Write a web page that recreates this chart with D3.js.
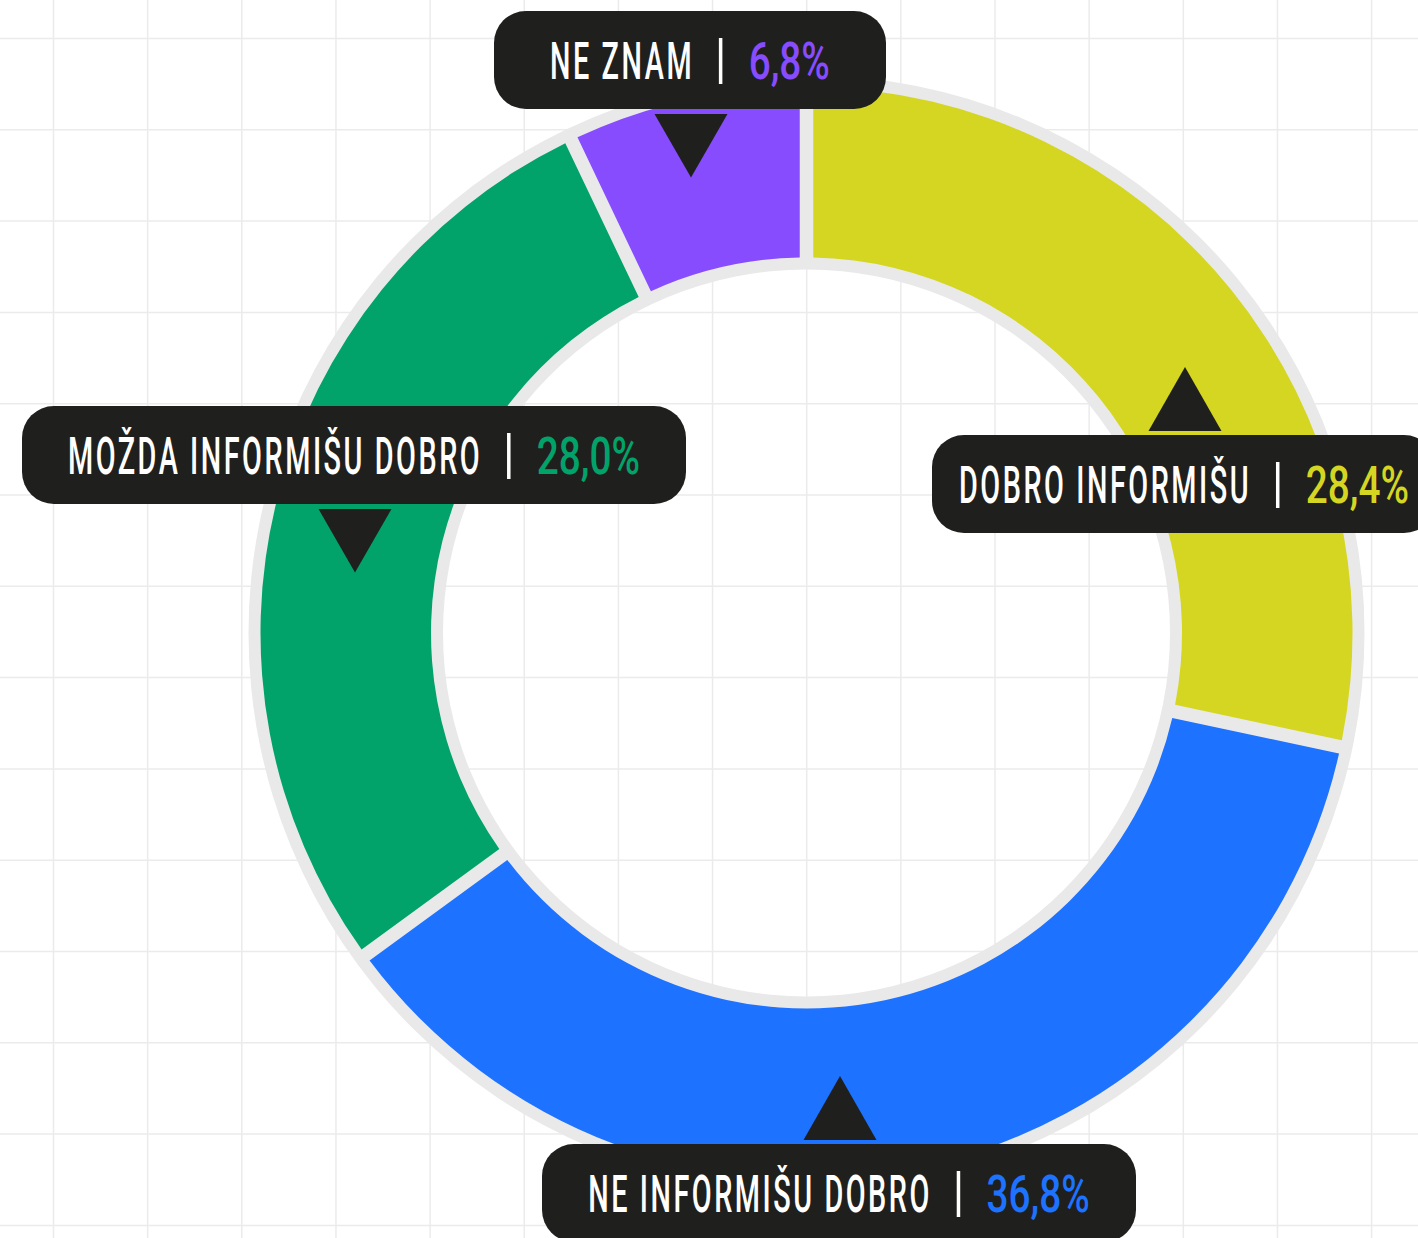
<!DOCTYPE html>
<meta charset="utf-8">
<html>
<head>
<style>
  body { margin: 0; background: #ffffff; }
  text { font-family: Roboto, "Noto Sans", sans-serif; font-weight: 500; }
</style>
</head>
<body>
<div id="chart"></div>
<script src="https://d3js.org/d3.v7.min.js"></script>
<script>
// data
var categories = ["DOBRO INFORMIŠU", "NE INFORMIŠU DOBRO", "MOŽDA INFORMIŠU DOBRO", "NE ZNAM"]
var shares = [28.4, 36.8, 28.0, 6.8]
var colors = ["#d4d622", "#1d72ff", "#02a36a", "#884cff"]

// where each callout sits (centre x, top of box, box width, pointer side)
var labelPos = [
  {cx: 1184, top: 435, w: 504, arrow: "up"},
  {cx: 839, top: 1144, w: 594, arrow: "up"},
  {cx: 354, top: 406, w: 664, arrow: "down"},
  {cx: 690, top: 11, w: 392, arrow: "down"}
]

var width = 1418, height = 1238
var cx = 806.5, cy = 633

var svg = d3.select("#chart").append("svg")
  .attr("width", width)
  .attr("height", height)

// background grid
svg.append("g").selectAll("line")
  .data(d3.range(53.5, width, 94.15))
  .enter().append("line")
    .attr("x1", d => d).attr("x2", d => d)
    .attr("y1", 0).attr("y2", height)
    .style("stroke", "#ebebeb").style("stroke-width", 1.5)
svg.append("g").selectAll("line")
  .data(d3.range(38.5, height, 91.3))
  .enter().append("line")
    .attr("y1", d => d).attr("y2", d => d)
    .attr("x1", 0).attr("x2", width)
    .style("stroke", "#ebebeb").style("stroke-width", 1.5)

var donut = svg.append("g").attr("transform", "translate(" + cx + "," + cy + ")")

// grey ring behind the slices
donut.append("path")
  .attr("d", d3.arc()({innerRadius: 363.5, outerRadius: 558, startAngle: 0, endAngle: 2 * Math.PI}))
  .style("fill", "#e9e9e9")

var pie = d3.pie().sort(null).padAngle(13.5 / 546)
var arc = d3.arc().innerRadius(375.5).outerRadius(546).padRadius(546)

donut.selectAll(".slice")
  .data(pie(shares))
  .enter().append("path")
    .attr("class", "slice")
    .attr("d", arc)
    .style("fill", (d, i) => colors[i])

// callouts
var fmt = function (v) { return d3.format(".1f")(v).replace(".", ",") + "%" }
var boxH = 98, nameScale = 0.565, valScale = 0.76, gapL = 29, gapR = 28

var labels = svg.selectAll(".label")
  .data(categories)
  .enter().append("g")
    .attr("class", "label")
    .attr("transform", (d, i) => "translate(" + labelPos[i].cx + "," + labelPos[i].top + ")")

labels.append("path")
  .attr("d", function (d, i) {
    if (labelPos[i].arrow == "up") return "M-35.5,-4L37.5,-4L1,-68Z"
    return "M-35.5,103L37.5,103L1,166.5Z"
  })
  .style("fill", "#1f1f1d")

labels.append("rect")
  .attr("x", (d, i) => -labelPos[i].w / 2)
  .attr("y", 0)
  .attr("width", (d, i) => labelPos[i].w)
  .attr("height", boxH)
  .attr("rx", 32)
  .style("fill", "#1f1f1d")

labels.each(function (d, i) {
  var g = d3.select(this)
  var name = g.append("text").attr("y", 68)
    .style("font-size", "51px").style("letter-spacing", "4.5px").style("fill", "#ffffff").text(d)
  var val = g.append("text").attr("y", 68)
    .style("font-size", "51px").style("fill", colors[i]).text(fmt(shares[i]))
  var wName = (name.node().getComputedTextLength() - 4.5) * nameScale
  var wVal = val.node().getComputedTextLength() * valScale
  var x0 = -(wName + gapL + gapR + wVal) / 2
  name.attr("transform", "translate(" + x0 + ",0) scale(" + nameScale + ",1)")
  g.append("rect")
    .attr("x", x0 + wName + gapL - 1.75).attr("y", 27)
    .attr("width", 3.5).attr("height", 46)
    .style("fill", "#ffffff")
  val.attr("transform", "translate(" + (x0 + wName + gapL + gapR) + ",0) scale(" + valScale + ",1)")
})
</script>
</body>
</html>
